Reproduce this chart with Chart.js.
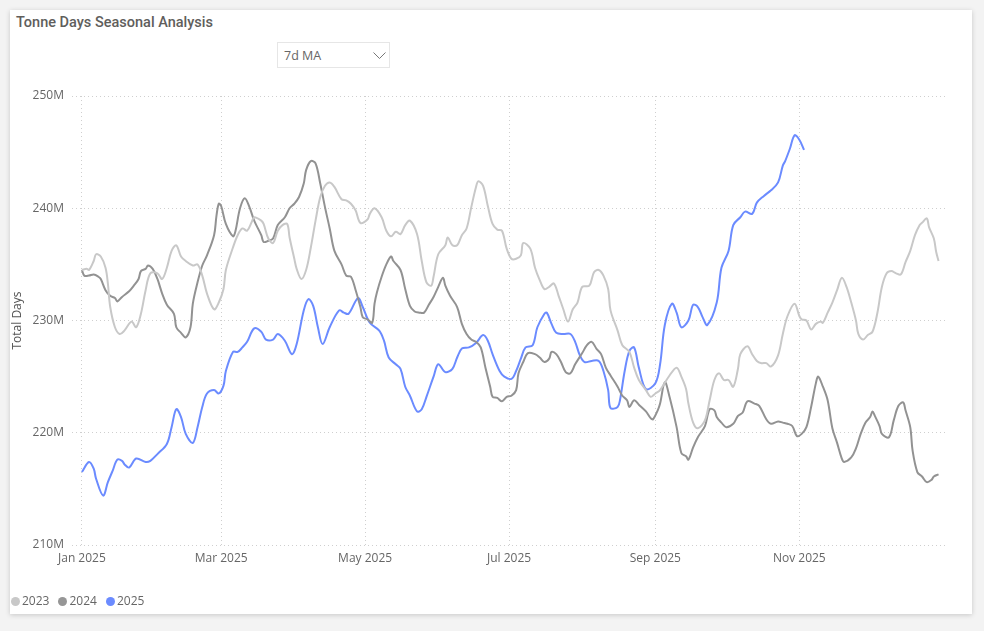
<!DOCTYPE html>
<html>
<head>
<meta charset="utf-8">
<script src="https://cdn.jsdelivr.net/npm/chart.js@4.4.1/dist/chart.umd.min.js"></script>
<style>
  body { margin: 0; width: 984px; height: 631px; background: #f3f3f3; position: relative; overflow: hidden; font-family: "Open Sans", "Noto Sans", sans-serif; }
  .card { position: absolute; left: 10px; top: 10px; width: 962px; height: 604px; background: #fff; box-shadow: 0 1px 5px rgba(0,0,0,0.18); }
  .title { position: absolute; left: 16px; top: 14px; font-family: Roboto, sans-serif; font-weight: 500; font-size: 14.5px; color: #605e5c; }
  .slicer { position: absolute; left: 277px; top: 42px; width: 113px; height: 26px; border: 1px solid #e6e6e6; box-sizing: border-box; }
  .slicer span { position: absolute; left: 6px; top: 4px; font-size: 12.5px; color: #666; }
  .slicer svg { position: absolute; left: 95px; top: 9px; }
  .legend { position: absolute; left: 11px; top: 592px; font-size: 12px; color: #666; }
  .legend i { display: inline-block; width: 9px; height: 9px; border-radius: 50%; margin-right: 2px; vertical-align: -1px; }
  .legend b { font-weight: 500; margin-right: 9px; }
  canvas { position: absolute; left: 0; top: 0; }
</style>
</head>
<body>
<div class="card"></div>
<div class="title">Tonne Days Seasonal Analysis</div>
<div class="slicer"><span>7d MA</span><svg width="13" height="8"><polyline points="0.5,0.5 6.5,6.5 12.5,0.5" fill="none" stroke="#777" stroke-width="1"/></svg></div>
<canvas id="tdChart" width="984" height="631"></canvas>
<div class="legend">
  <i style="background:#c8c8c8"></i><b>2023</b><i style="background:#969696"></i><b>2024</b><i style="background:#6b8bff"></i><b>2025</b>
</div>
<script>
"use strict";

// x axis = day of year, ticks every second month
const monthDays = [0, 59, 120, 181, 243, 304];
const monthLabels = ['Jan 2025', 'Mar 2025', 'May 2025', 'Jul 2025', 'Sep 2025', 'Nov 2025'];
const yTicks = [210, 220, 230, 240, 250];

/* --- 2023 --- */
const days23 = [0,2,3,5,6,8,10,11,12,14,16,18,21,23,25,27,29,32,34,36,38,40,42,44,47,49,51,53,56,58,60,61,64,66,68,70,72,73,76,77,79,81,83,85,87,88,90,91,93,95,97,99,101,103,105,107,110,112,114,116,118,121,122,124,127,129,131,133,135,137,139,142,144,146,148,149,151,154,155,157,159,161,163,165,167,168,170,172,174,176,178,180,182,184,186,187,190,192,194,196,198,200,202,204,206,208,210,212,215,217,219,221,223,224,227,229,232,234,236,239,241,243,245,249,252,254,256,257,259,261,264,266,268,270,272,274,276,278,279,282,284,286,288,290,292,295,297,299,302,304,305,307,309,311,313,314,316,318,320,322,324,326,328,329,331,333,335,337,339,341,343,345,347,349,351,353,355,356,358,359,361,362,363];
const vals23 = [234.5,234.6,234.5,235.3,235.9,235.7,234.7,233.3,231.2,229.4,228.8,229.1,229.9,229.4,230.6,232.7,234.2,234.2,233.7,234.7,236.2,236.7,235.7,235.3,234.9,235.0,234.0,232.4,231.0,231.6,232.8,234.5,236.5,237.6,238.2,238.0,238.8,239.2,238.9,238.6,237.3,236.9,238.0,238.5,238.6,237.4,235.5,234.6,233.7,234.5,236.5,238.9,241.0,242.0,242.3,241.9,240.8,240.7,240.4,239.8,238.7,239.0,239.5,240.0,239.2,238.0,237.5,237.9,237.7,238.5,238.9,237.7,235.3,233.4,233.1,233.9,235.9,236.7,237.4,236.7,236.7,237.6,238.2,240.1,241.9,242.4,242.0,240.2,238.6,238.1,238.0,236.4,235.5,235.5,235.8,236.9,236.4,234.7,233.6,232.8,233.0,233.3,232.2,231.0,229.9,231.0,231.6,233.0,233.1,234.3,234.5,234.0,232.8,230.9,229.1,227.8,227.2,225.8,224.7,223.8,223.2,223.5,223.8,225.1,225.8,225.0,223.9,222.6,220.9,220.4,221.1,222.9,224.7,225.3,224.7,224.7,224.1,225.7,227.0,227.7,227.0,226.4,226.2,226.2,225.9,226.9,228.8,230.4,231.5,230.4,230.1,230.0,229.2,229.7,229.9,229.8,230.7,231.6,232.7,233.8,233.0,231.6,230.0,228.8,228.3,228.7,229.0,230.6,233.0,234.2,234.4,234.2,234.1,235.2,236.2,237.6,238.5,238.7,239.1,238.3,237.3,236.1,235.3];

/* --- 2024 --- */
const days24 = [0,1,3,5,7,8,10,12,14,15,17,20,22,24,25,27,28,30,32,34,36,39,40,42,44,46,47,49,51,53,56,57,58,59,61,64,65,67,69,71,73,76,77,79,81,83,86,88,90,92,94,95,97,99,101,103,105,107,110,112,114,116,118,119,121,123,124,125,127,129,131,132,135,137,139,141,143,145,147,149,151,153,154,156,159,161,163,165,167,169,171,173,174,176,178,180,182,184,185,187,189,192,194,196,198,199,201,203,205,207,209,212,214,216,218,220,222,224,227,229,231,232,234,236,239,241,242,244,245,247,249,252,254,256,257,259,261,264,266,268,269,271,273,276,278,280,282,285,287,290,292,295,297,299,301,303,305,307,309,311,312,314,316,318,320,322,323,326,328,330,332,334,335,336,338,339,342,344,346,348,349,351,352,354,356,358,360,361,363];
const vals24 = [234.5,234.0,234.0,234.1,233.9,233.7,232.7,232.2,232.0,231.7,232.1,232.6,233.1,233.7,234.4,234.6,234.9,234.6,233.7,232.4,231.4,230.6,229.4,228.9,228.5,229.4,231.5,233.4,234.9,235.8,237.6,239.3,240.4,240.2,238.6,237.5,237.9,240.0,240.9,240.1,238.9,237.6,237.0,237.1,237.3,238.5,239.2,240.0,240.4,241.0,242.2,243.4,244.2,244.0,242.2,240.1,238.2,236.2,235.0,234.0,233.9,232.7,231.2,230.3,230.1,229.8,231.5,232.5,233.9,235.0,235.7,235.3,234.5,232.8,231.3,230.8,230.7,230.7,231.4,232.1,233.0,233.8,233.1,232.2,231.2,229.7,228.8,228.3,228.1,227.6,225.8,224.1,223.2,223.1,222.8,223.2,223.3,223.8,225.3,226.3,227.1,227.0,226.7,226.3,226.6,227.2,227.0,226.3,225.4,225.3,226.1,227.1,227.8,228.1,227.5,227.0,225.8,225.1,224.1,223.3,222.9,222.3,222.9,222.5,221.9,221.3,221.2,222.0,222.6,224.5,223.2,220.5,218.2,217.9,217.6,218.7,219.6,220.6,222.1,222.0,221.4,220.9,220.5,220.8,221.5,221.8,222.8,222.6,222.4,221.2,220.8,221.0,220.9,220.8,220.6,219.7,219.9,220.5,222.3,224.4,225.0,224.1,222.9,220.4,219.1,217.7,217.4,217.8,218.6,219.9,220.9,221.4,221.9,221.5,220.6,219.9,219.6,221.1,222.4,222.7,222.0,220.5,218.4,216.5,216.1,215.6,215.8,216.1,216.3];

/* --- 2025 --- */
const days25 = [0,3,5,6,9,11,13,15,17,18,20,23,27,29,32,36,38,40,42,44,47,49,51,53,56,58,60,61,64,66,68,70,73,76,78,81,83,86,89,91,94,96,98,100,102,105,109,111,113,117,119,122,126,128,130,133,135,137,139,142,144,146,149,151,154,157,159,161,164,167,170,172,174,177,179,182,184,186,188,191,193,196,197,199,201,204,207,209,211,213,216,219,221,223,224,227,228,230,232,234,236,239,243,245,247,250,252,254,257,259,261,263,265,269,271,274,276,279,281,284,286,289,292,295,297,298,300,302,304,306];
const vals25 = [216.5,217.4,216.8,215.9,214.4,215.6,216.6,217.6,217.5,217.2,216.9,217.7,217.4,217.5,218.1,219.0,220.5,222.1,221.4,219.9,219.1,220.5,222.3,223.5,223.8,223.5,224.2,225.5,227.2,227.2,227.6,228.1,229.3,229.0,228.3,228.3,228.8,228.2,227.0,227.9,230.9,231.9,231.3,229.4,227.9,229.4,230.9,230.7,230.6,232.0,231.2,229.8,229.1,228.2,226.7,226.1,225.7,224.1,223.3,221.9,222.1,223.2,225.0,226.1,225.4,225.7,226.7,227.5,227.6,228.0,228.7,228.2,227.0,225.5,225.0,224.8,225.5,226.6,227.6,227.8,229.4,230.6,230.7,229.7,228.9,228.8,228.8,228.1,226.9,226.3,226.4,226.4,225.5,223.8,222.2,222.3,222.9,225.5,227.3,227.6,225.8,223.9,224.4,226.1,229.6,231.5,230.7,229.4,230.0,231.4,231.2,230.3,229.6,231.6,234.7,236.2,238.5,239.2,239.7,239.5,240.5,241.1,241.6,242.3,243.8,244.2,245.3,246.5,246.1,245.2];

function pts(days, vals) {
  return days.map((d, i) => ({ x: d, y: vals[i] }));
}

function series(label, days, vals, color) {
  return {
    label: label,
    data: pts(days, vals),
    borderColor: color,
    backgroundColor: color,
    borderWidth: 2,
    pointRadius: 0,
    tension: 0.35,
    fill: false
  };
}

const tickFont = { family: '"Open Sans", sans-serif', size: 12 };

const td_chart = new Chart(document.getElementById('tdChart'), {
  type: 'line',
  data: {
    datasets: [
      series('2023', days23, vals23, '#c8c8c8'),
      series('2024', days24, vals24, '#929292'),
      series('2025', days25, vals25, '#6b8bff')
    ]
  },
  options: {
    responsive: false,
    animation: false,
    layout: { padding: { left: 10, top: 96, right: 36, bottom: 61 } },
    plugins: {
      legend: { display: false },
      tooltip: { enabled: false }
    },
    scales: {
      x: {
        type: 'linear',
        min: -4.2,
        max: 367,
        afterBuildTicks: (s) => { s.ticks = monthDays.map(v => ({ value: v })); },
        afterFit: (s) => { s.height = 25; },
        ticks: {
          autoSkip: false,
          maxRotation: 0,
          padding: 6,
          color: '#666',
          font: tickFont,
          callback: (v) => monthLabels[monthDays.indexOf(v)]
        },
        grid: { color: '#cfcfcf', drawTicks: false },
        border: { display: false, dash: [1, 3] }
      },
      y: {
        min: 210,
        max: 250,
        afterBuildTicks: (s) => { s.ticks = yTicks.map(v => ({ value: v })); },
        afterFit: (s) => { s.width = 62; },
        ticks: {
          padding: 8,
          color: '#666',
          font: tickFont,
          callback: (v) => v + 'M'
        },
        title: {
          display: true,
          text: 'Total Days',
          color: '#555',
          font: tickFont,
          padding: 0
        },
        grid: { color: '#cfcfcf', drawTicks: false },
        border: { display: false, dash: [1, 3] }
      }
    }
  }
});
</script>
</body>
</html>
